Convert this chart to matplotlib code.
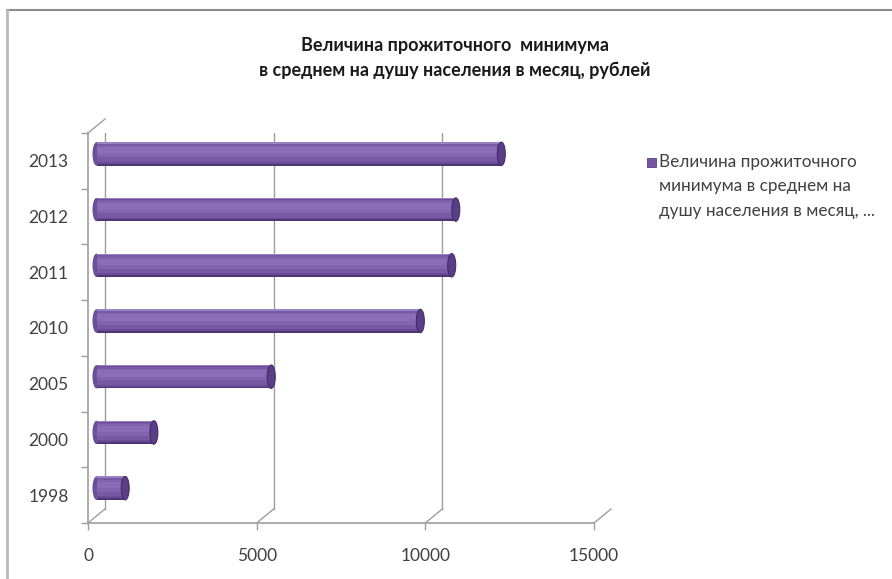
import numpy as np
import matplotlib.pyplot as plt
import matplotlib.transforms as mtransforms
from matplotlib.patches import Ellipse, Rectangle
from matplotlib.lines import Line2D

plt.rcParams['font.family'] = ['Lato', 'DejaVu Sans']

## data
years = ['1998', '2000', '2005', '2010', '2011', '2012', '2013']
values = [850, 1700, 5180, 9600, 10530, 10650, 12000]
xticks = [0, 5000, 10000, 15000]
title = 'Величина прожиточного  минимума\nв среднем на душу населения в месяц, рублей'
legend_lines = ['Величина прожиточного', 'минимума в среднем на', 'душу населения в месяц, ...']

W, H, dpi = 892, 579, 100
fig = plt.figure(figsize=(W / dpi, H / dpi), dpi=dpi)

# front plane of the plot area in pixels
x0, x1, yb, yt = 88, 594, 523, 133
ax = fig.add_axes([x0 / W, 1 - yb / H, (x1 - x0) / W, (yb - yt) / H])
ax.set_xlim(0, 15000)
ax.set_ylim(-0.5, len(years) - 0.5)
ax.patch.set_visible(False)

# depth offsets (pixels): back wall and middle (bars)
dx, dy = 17, 14
back = ax.transData + mtransforms.ScaledTranslation(dx / dpi, dy / dpi, fig.dpi_scale_trans)
mid = ax.transData + mtransforms.ScaledTranslation(dx / 2 / dpi, dy / 2 / dpi, fig.dpi_scale_trans)

grid_c = '#9e9e9e'
ylo, yhi = -0.5, len(years) - 0.5
for xv in xticks:
    ax.add_line(Line2D([xv, xv], [ylo, yhi], color=grid_c, lw=1, transform=back, zorder=1))
    # floor diagonals
    ax.plot([xv, xv + dx / 0.03373], [ylo, ylo + dy / 55.7], color=grid_c, lw=1,
            clip_on=False, zorder=1)
# top diagonal of the left wall
ax.plot([0, dx / 0.03373], [yhi, yhi + dy / 55.7], color=grid_c, lw=1, clip_on=False, zorder=1)

# spines as the front edges
for s in ['top', 'right']:
    ax.spines[s].set_visible(False)
for s in ['left', 'bottom']:
    ax.spines[s].set_color(grid_c)
    ax.spines[s].set_linewidth(1.2)

ypos = np.arange(len(years))
ax.set_yticks(ypos)
ax.set_yticklabels(years)
ax.set_yticks(np.arange(len(years) + 1) - 0.5, minor=True)
ax.tick_params(axis='y', which='major', length=0, pad=14, labelsize=12.5, labelcolor='#404040')
ax.tick_params(axis='y', which='minor', length=5, color=grid_c, width=1)
ax.set_xticks(xticks)
ax.tick_params(axis='x', length=5, color=grid_c, width=1, pad=13, labelsize=12.5,
               labelcolor='#404040')

# cylinder bars (layered shading)
bh = 0.42
cap_w = 8 / 0.03373
stripes = [(0.0, 1.0, '#4f3476'), (0.08, 0.96, '#6a4c96'), (0.16, 0.92, '#7758a4'),
           (0.35, 0.85, '#8163ae'), (0.50, 0.78, '#8a6cb7'), (0.94, 1.0, '#9a82c2')]
for y, v in zip(ypos, values):
    ax.add_patch(Ellipse((0, y), cap_w, bh, facecolor='#6d4f99', edgecolor='none',
                         transform=mid, zorder=3))
    for f0, f1, c in stripes:
        ax.barh(y - bh / 2 + f0 * bh, v, height=(f1 - f0) * bh, align='edge', color=c,
                transform=mid, zorder=4)
    ax.add_patch(Ellipse((v, y), cap_w, bh, facecolor='#5a3e86', edgecolor='#452b6a',
                         lw=0.8, transform=mid, zorder=5))

# title
fig.text(455 / W, 1 - 58 / H, title, ha='center', va='center', fontsize=13,
         fontweight='bold', color='#1a1a1a', linespacing=1.5)

# legend
fig.patches.append(Rectangle((647 / W, 1 - 167 / H), 9 / W, 9 / H, transform=fig.transFigure,
                             facecolor='#7656a3', edgecolor='#5a3f85', lw=0.6))
for i, t in enumerate(legend_lines):
    fig.text(659 / W, 1 - (162 + i * 24.5) / H, t, ha='left', va='center', fontsize=12.3,
             color='#404040')

# chart border
fig.add_artist(Line2D([7 / W, 1], [1 - 10 / H, 1 - 10 / H], color='#8c8c8c', lw=1.5,
                      transform=fig.transFigure))
fig.add_artist(Line2D([7 / W, 7 / W], [0, 1 - 10 / H], color='#b8b8b8', lw=2,
                      transform=fig.transFigure))

fig.savefig('out.png', dpi=dpi)
